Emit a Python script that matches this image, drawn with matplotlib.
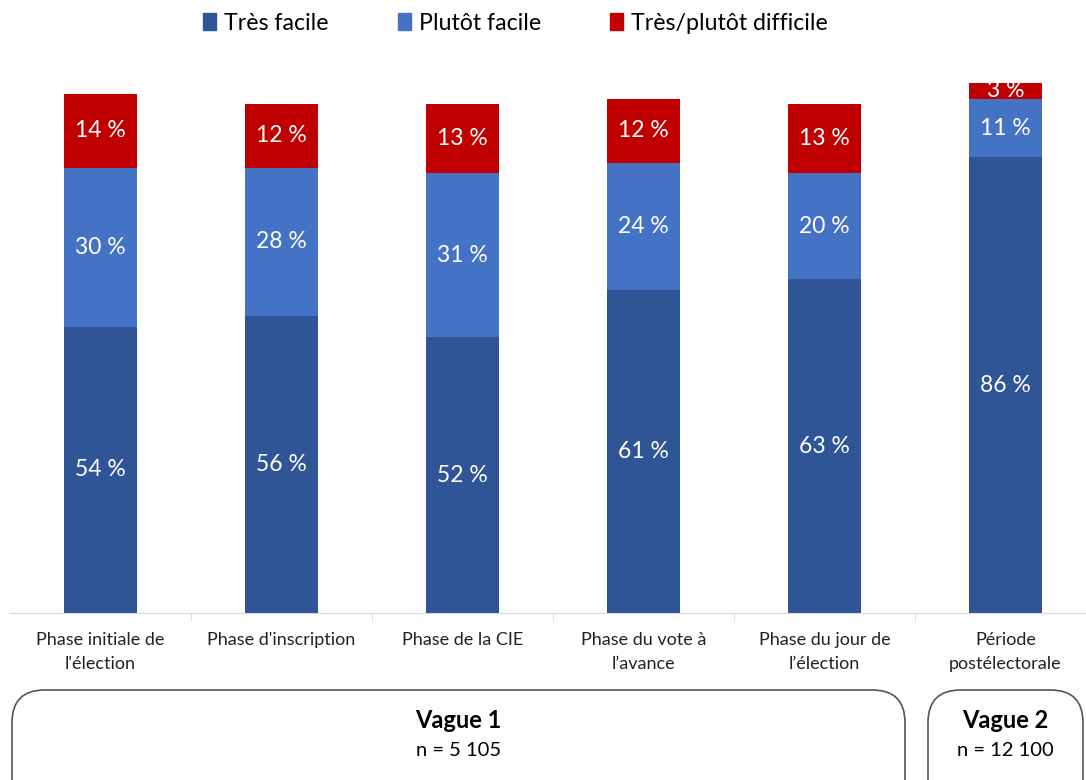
import numpy as np
import matplotlib.pyplot as plt
from matplotlib.patches import FancyBboxPatch, Patch

plt.rcParams['font.family'] = ['Lato', 'DejaVu Sans']

categories = ["Phase initiale de\nl'élection", "Phase d'inscription", "Phase de la CIE",
              "Phase du vote à\nl\u2019avance", "Phase du jour de\nl\u2019élection",
              "Période\npostélectorale"]
tres_facile = [54, 56, 52, 61, 63, 86]
plutot_facile = [30, 28, 31, 24, 20, 11]
difficile = [14, 12, 13, 12, 13, 3]
series_names = ["Très facile", "Plutôt facile", "Très/plutôt difficile"]
colors = ["#2F5597", "#4472C4", "#C00000"]

fig = plt.figure(figsize=(10.86, 7.8), dpi=100)
ax = fig.add_axes([10 / 1086, 167 / 780, 1076 / 1086, 530 / 780])

x = np.arange(len(categories))
width = 0.4
bottom = np.zeros(len(categories))
for vals, col in zip([tres_facile, plutot_facile, difficile], colors):
    ax.bar(x, vals, width, bottom=bottom, color=col)
    for xi, b, v in zip(x, bottom, vals):
        ax.text(xi, b + v / 2, f"{v} %", ha='center', va='center', color='white', fontsize=16.5)
    bottom += vals

ax.set_xlim(-0.5, -0.5 + 1076 / 181)
ax.set_ylim(0, 100)
ax.set_yticks([])
for s in ['top', 'right', 'left']:
    ax.spines[s].set_visible(False)
ax.spines['bottom'].set_color('#d9d9d9')
ax.set_xticks(x)
ax.set_xticklabels(categories, fontsize=13, color='#222222', linespacing=1.6)
ax.tick_params(axis='x', length=0, pad=14)
ax.set_xticks(x[:-1] + 0.5, minor=True)
ax.tick_params(axis='x', which='minor', length=6, color='#d9d9d9')

handles = [Patch(color=c) for c in colors]
fig.legend(handles, series_names, loc='upper center', bbox_to_anchor=(0.4747, 1.01), ncol=3,
           frameon=False, fontsize=16.7, handlelength=0.55, handleheight=0.75, handletextpad=0.35,
           columnspacing=3.0)

# wave boxes
def box(x0, x1, title, sub):
    p = FancyBboxPatch((x0 / 1086, 90 / 780 - 0.2), (x1 - x0) / 1086, 0.2,
                       boxstyle="round,pad=0,rounding_size=0.03", transform=fig.transFigure,
                       facecolor='white', edgecolor='#555555', lw=1.2, mutation_aspect=1086 / 780)
    fig.add_artist(p)
    xc = (x0 + x1) / 2 / 1086
    fig.text(xc, 1 - 720 / 780, title, ha='center', va='center', fontsize=17, fontweight='bold')
    fig.text(xc, 1 - 751 / 780, sub, ha='center', va='center', fontsize=14.5)

box(12, 905, "Vague 1", "n = 5 105")
box(928, 1083, "Vague 2", "n = 12 100")

fig.savefig("out.png")
